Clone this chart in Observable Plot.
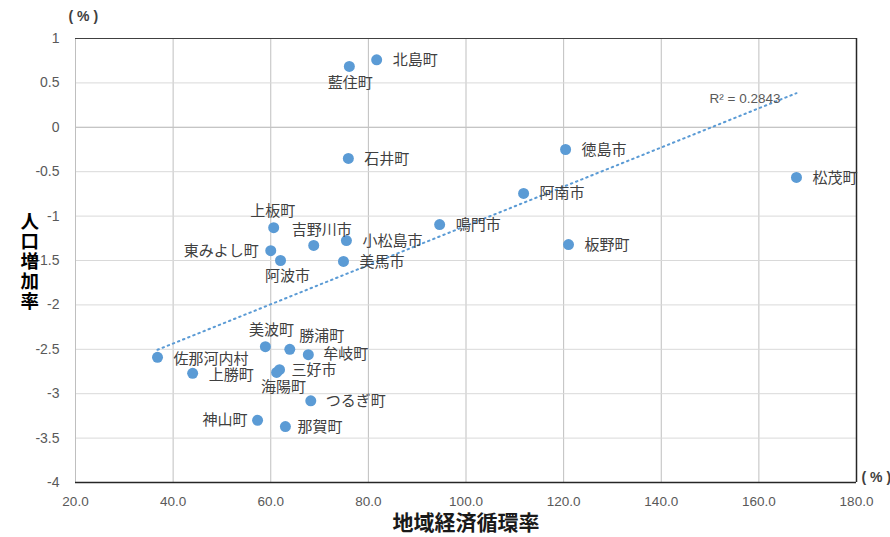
<!DOCTYPE html>
<html><head><meta charset="utf-8">
<script src="https://cdn.jsdelivr.net/npm/d3@7"></script>
<script src="https://cdn.jsdelivr.net/npm/@observablehq/plot@0.6"></script>
<style>body{margin:0;background:#fff}</style>
</head><body><div id="chart"></div>
<script>
const towns = ["北島町","藍住町","石井町","徳島市","松茂町","阿南市","鳴門市","板野町","上板町","吉野川市","小松島市","東みよし町","阿波市","美馬市","美波町","勝浦町","牟岐町","佐那河内村","上勝町","三好市","海陽町","つるぎ町","神山町","那賀町"];
const circulation = [81.7,76.1,75.9,120.4,167.7,111.8,94.6,121.0,60.6,68.8,75.5,60.0,62.0,74.9,58.9,63.9,67.7,36.8,44.0,61.8,61.2,68.2,57.3,63.0];
const popGrowth = [0.76,0.685,-0.35,-0.25,-0.565,-0.745,-1.095,-1.32,-1.13,-1.33,-1.275,-1.39,-1.5,-1.51,-2.47,-2.5,-2.56,-2.59,-2.77,-2.73,-2.76,-3.08,-3.30,-3.37];
const xTicks = [20,40,60,80,100,120,140,160,180];
const yTicks = [1,0.5,0,-0.5,-1,-1.5,-2,-2.5,-3,-3.5,-4];
const r2Text = "R² = 0.2843";
const yTitleChars = ["人","口","増","加","率"];

// label placement: [dx, dy, anchor]
const labelPlace = {
  "北島町":[16,0,"start"], "藍住町":[1,17,"middle"], "石井町":[16,1,"start"], "徳島市":[16,1,"start"],
  "松茂町":[16,1,"start"], "阿南市":[16,0,"start"], "鳴門市":[16,1,"start"], "板野町":[16,1,"start"],
  "上板町":[-1,-16,"middle"], "吉野川市":[8,-15,"middle"], "小松島市":[16,1,"start"], "東みよし町":[-12,0,"end"],
  "阿波市":[7,16,"middle"], "美馬市":[16,1,"start"], "美波町":[6,-16,"middle"], "勝浦町":[32,-13,"middle"],
  "牟岐町":[15,0,"start"], "佐那河内村":[16,2,"start"], "上勝町":[16,2,"start"], "三好市":[12,0,"start"],
  "海陽町":[7,15,"middle"], "つるぎ町":[15,0,"start"], "神山町":[-10,0,"end"], "那賀町":[12,1,"start"]
};

const data = towns.map((t, i) => ({town: t, x: circulation[i], y: popGrowth[i]}));
const font = "'Noto Sans CJK JP', 'Noto Sans', sans-serif";

const labelMarks = data.map(d => {
  const [dx, dy, anchor] = labelPlace[d.town];
  return Plot.text([d], {x: "x", y: "y", text: "town", dx, dy, textAnchor: anchor,
    fontSize: 15, fill: "#404040", fontFamily: font});
});

// vertical y-axis title, one character per text mark stacked downward
const yTitleMarks = yTitleChars.map((c, i) =>
  Plot.text([c], {frameAnchor: "left", dx: -55, dy: 2 + (i - 2) * 20, fontSize: 18.5, fontWeight: "bold",
    fill: "#000", lineAnchor: "middle"}));

const chart = Plot.plot({
  width: 890, height: 537,
  marginLeft: 75, marginRight: 34, marginTop: 38, marginBottom: 55,
  style: {fontFamily: font, background: "#fff"},
  x: {domain: [20, 180]},
  y: {domain: [-4, 1]},
  marks: [
    Plot.gridX(xTicks, {stroke: "#bfbfbf", strokeOpacity: 1}),
    Plot.gridY(yTicks, {stroke: "#d9d9d9", strokeOpacity: 1}),
    Plot.ruleY([0], {stroke: "#bfbfbf"}),
    Plot.ruleX([20], {stroke: "#bfbfbf"}),
    Plot.ruleY([1], {stroke: "#404040"}),
    Plot.ruleY([-4], {stroke: "#262626", strokeWidth: 1.5}),
    Plot.ruleX([180], {stroke: "#262626", strokeWidth: 1.5}),
    Plot.axisX(xTicks, {tickSize: 0, tickPadding: 14, tickFormat: d => d.toFixed(1),
      fontSize: 13.5, color: "#595959", label: null, fontFamily: "'Liberation Sans Narrow', 'Liberation Sans', sans-serif"}),
    Plot.axisY(yTicks, {tickSize: 0, tickPadding: 16, tickFormat: d => String(d),
      fontSize: 14, color: "#595959", label: null, fontFamily: "'Liberation Sans', sans-serif"}),
    Plot.linearRegressionY(data, {x: "x", y: "y", ci: 0, stroke: "#5b9bd5", strokeWidth: 2,
      strokeDasharray: "1.5 4", strokeLinecap: "round"}),
    Plot.dot(data, {x: "x", y: "y", r: 5.5, fill: "#5b9bd5", stroke: "none"}),
    ...labelMarks,
    Plot.text([r2Text], {frameAnchor: "top-right", dx: -76, dy: 55, textAnchor: "end",
      fontSize: 13.5, fill: "#595959", fontFamily: "'Liberation Sans', sans-serif"}),
    Plot.text(["地域経済循環率"], {frameAnchor: "bottom", dy: 41, fontSize: 21, fontWeight: "bold",
      fill: "#1a1a1a", lineAnchor: "middle"}),
    ...yTitleMarks,
    Plot.text(["( % )"], {frameAnchor: "top-left", dx: -7, dy: -22, fontSize: 14, fontWeight: "bold",
      fill: "#404040", lineAnchor: "middle", fontFamily: "'Liberation Sans', sans-serif"}),
    Plot.text(["( % )"], {frameAnchor: "bottom-right", dx: 5, dy: -5, fontSize: 14, fontWeight: "bold",
      fill: "#404040", textAnchor: "start", lineAnchor: "middle", fontFamily: "'Liberation Sans', sans-serif"})
  ]
});
document.getElementById("chart").appendChild(chart);
</script>
</body></html>
